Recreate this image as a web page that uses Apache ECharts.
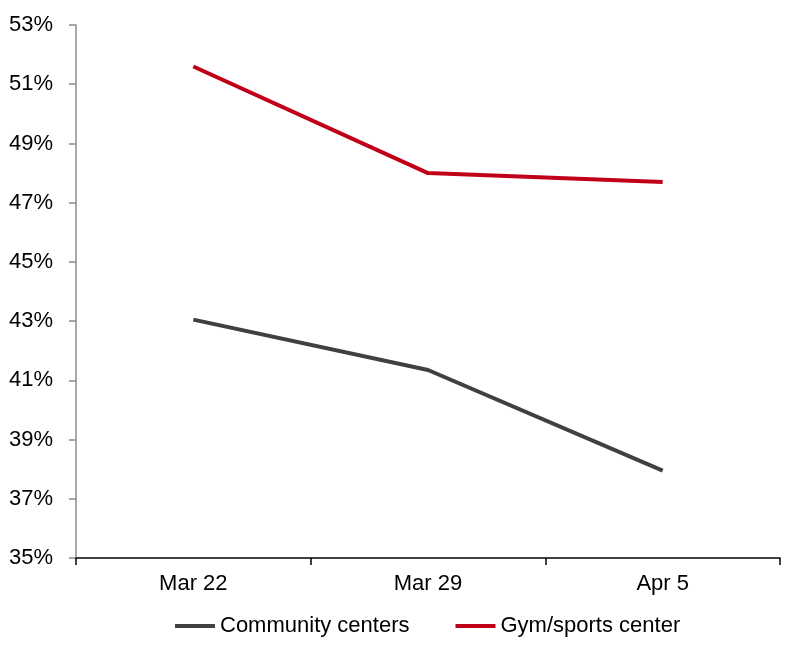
<!DOCTYPE html>
<html>
<head>
<meta charset="utf-8">
<script src="https://cdn.jsdelivr.net/npm/echarts@6/dist/echarts.min.js"></script>
<style>
  html, body { margin: 0; padding: 0; background: #fff; }
  #chart { width: 798px; height: 654px; }
</style>
</head>
<body>
<div id="chart"></div>
<script>
// categories (weeks)
const weeks = ['Mar 22', 'Mar 29', 'Apr 5'];

// share of respondents, %
const communityCenters = [43.05, 41.35, 37.95];
const gymSportsCenter = [51.6, 48.0, 47.7];

const yMin = 35;
const yMax = 53;
const yStep = 2;

const chart = echarts.init(document.getElementById('chart'));
const font = 'Liberation Sans, Arial, sans-serif';

const option = {
  animation: false,
  grid: { left: 76, right: 18, top: 25, bottom: 96 },
  legend: {
    left: 170,
    top: 610,
    itemGap: 46,
    itemWidth: 40,
    itemHeight: 4,
    icon: 'rect',
    textStyle: { fontFamily: font, fontSize: 22, color: '#000' },
    data: ['Community centers', 'Gym/sports center']
  },
  xAxis: {
    type: 'category',
    data: weeks,
    boundaryGap: true,
    axisLine: { lineStyle: { color: '#000', width: 1.5 } },
    axisTick: { show: true, length: 7, lineStyle: { color: '#000', width: 1.5 } },
    axisLabel: { fontFamily: font, fontSize: 22, color: '#000', margin: 15 },
    splitLine: { show: false }
  },
  yAxis: {
    type: 'value',
    min: yMin,
    max: yMax,
    interval: yStep,
    axisLine: { show: true, lineStyle: { color: '#8c8c8c', width: 1.5 } },
    axisTick: { show: true, length: 7, lineStyle: { color: '#8c8c8c', width: 1.5 } },
    axisLabel: {
      fontFamily: font, fontSize: 22, color: '#000', margin: 23,
      formatter: '{value}%'
    },
    splitLine: { show: false }
  },
  series: [
    {
      name: 'Community centers',
      type: 'line',
      data: communityCenters,
      symbol: 'none',
      itemStyle: { color: '#404040' },
      lineStyle: { color: '#404040', width: 4 }
    },
    {
      name: 'Gym/sports center',
      type: 'line',
      data: gymSportsCenter,
      symbol: 'none',
      itemStyle: { color: '#c00018' },
      lineStyle: { color: '#c00018', width: 4 }
    }
  ]
};

chart.setOption(option);
</script>
</body>
</html>
